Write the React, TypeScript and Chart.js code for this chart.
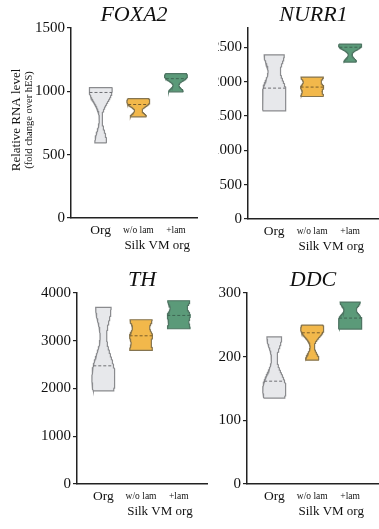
import React, { useEffect, useRef } from 'react';
import { Chart, registerables } from 'chart.js';

Chart.register(...registerables);

// ---------- data ----------
const categories = ['Org', 'w/o lam', '+lam'];
const groupLabel = 'Silk VM org';
const titles = ['FOXA2', 'NURR1', 'TH', 'DDC'];
const yTitle = 'Relative RNA level';
const ySubTitle = '(fold change over hES)';

// replicate values per group (min, median, max)
const foxa2Org = [593, 991, 1030];
const foxa2WoLam = [799, 896, 943];
const foxa2Lam = [996, 1100, 1140];
const nurr1Org = [1574, 1905, 2390];
const nurr1WoLam = [1783, 1920, 2066];
const nurr1Lam = [2284, 2500, 2546];
const thOrg = [1950, 2475, 3698];
const thWoLam = [2797, 3104, 3440];
const thLam = [3251, 3530, 3838];
const ddcOrg = [135, 161.5, 231];
const ddcWoLam = [194.5, 237.5, 249.6];
const ddcLam = [243.4, 260.6, 285.8];

const foxa2Ticks = [0, 500, 1000, 1500];
const nurr1Ticks = [0, 500, 1000, 1500, 2000, 2500];
const thTicks = [0, 1000, 2000, 3000, 4000];
const ddcTicks = [0, 100, 200, 300];
const yMaxes = [1500, 2780, 4000, 300];

// ---------- style ----------
const FONT = "'Liberation Serif', 'DejaVu Serif', serif";
const fills = ['#e7e8eb', '#f2b84b', '#5b9a79'];
const borders = ['#8a8b8e', '#85744f', '#4f7563'];
const medianColors = ['#6f7074', '#7a5e2a', '#3e6552'];
const HALF = 0.305;
const BW_ADJUST = 0.48;

function violin(samples: number[], center: number) {
  const s = [...samples].sort((a, b) => a - b);
  const n = s.length;
  const mean = s.reduce((a, b) => a + b, 0) / n;
  const sd = Math.sqrt(s.reduce((a, b) => a + (b - mean) ** 2, 0) / (n - 1));
  const h = Math.pow(n, -0.2) * BW_ADJUST * sd;
  const dens = (y: number) => s.reduce((a, v) => a + Math.exp(-0.5 * ((y - v) / h) ** 2), 0);
  const lo = s[0];
  const hi = s[n - 1];
  const STEPS = 120;
  const ys: number[] = [];
  for (let k = 0; k <= STEPS; k++) ys.push(lo + ((hi - lo) * k) / STEPS);
  const ds = ys.map(dens);
  const dmax = Math.max(...ds);
  const right = ys.map((y, k) => ({ x: center + (HALF * ds[k]) / dmax, y }));
  const left = ys.map((y, k) => ({ x: center - (HALF * ds[k]) / dmax, y })).reverse();
  const outline = [...right, ...left, right[0]];
  const med = n % 2 ? s[(n - 1) / 2] : (s[n / 2 - 1] + s[n / 2]) / 2;
  const wm = (HALF * dens(med)) / dmax;
  return { outline, median: [{ x: center - wm, y: med }, { x: center + wm, y: med }] };
}

type Panel = {
  title: string;
  groups: number[][];
  ticks: number[];
  yMax: number;
  left: number;
  top: number;
  width: number;
  height: number;
  yw: number;
  padTop: number;
  padRight: number;
  xh: number;
  xmin: number;
  xmax: number;
  yTitle: boolean;
};

const panels: Panel[] = [
  { title: titles[0], groups: [foxa2Org, foxa2WoLam, foxa2Lam], ticks: foxa2Ticks, yMax: yMaxes[0],
    left: 0, top: 0, width: 200, height: 260, yw: 71, padTop: 28, padRight: 3, xh: 42, xmin: -0.79, xmax: 2.56, yTitle: true },
  { title: titles[1], groups: [nurr1Org, nurr1WoLam, nurr1Lam], ticks: nurr1Ticks, yMax: yMaxes[1],
    left: 218, top: 0, width: 161, height: 260, yw: 30, padTop: 28, padRight: 0, xh: 41, xmin: -0.69, xmax: 2.76, yTitle: false },
  { title: titles[2], groups: [thOrg, thWoLam, thLam], ticks: thTicks, yMax: yMaxes[2],
    left: 0, top: 260, width: 210, height: 269, yw: 77, padTop: 33, padRight: 3, xh: 45, xmin: -0.7, xmax: 2.75, yTitle: false },
  { title: titles[3], groups: [ddcOrg, ddcWoLam, ddcLam], ticks: ddcTicks, yMax: yMaxes[3],
    left: 212, top: 260, width: 167, height: 269, yw: 35, padTop: 33, padRight: 0, xh: 45, xmin: -0.72, xmax: 2.76, yTitle: false },
];

function makeTextPlugin(p: Panel) {
  return {
    id: 'panelText',
    afterDraw(chart: any) {
      const { ctx, chartArea } = chart;
      const xs = chart.scales.x;
      ctx.save();
      ctx.fillStyle = '#111';
      ctx.textAlign = 'center';
      ctx.textBaseline = 'middle';
      ctx.font = `italic 22px ${FONT}`;
      ctx.fillText(p.title, (chartArea.left + chartArea.right) / 2, chartArea.top - 13);
      ctx.font = `13px ${FONT}`;
      ctx.fillText(groupLabel, xs.getPixelForValue(1.5), chartArea.bottom + 28);
      if (p.yTitle) {
        const cy = (chartArea.top + chartArea.bottom) / 2 - 3;
        ctx.translate(17, cy);
        ctx.rotate(-Math.PI / 2);
        ctx.font = `13px ${FONT}`;
        ctx.fillText(yTitle, 0, 0);
        ctx.font = `10.5px ${FONT}`;
        ctx.fillText(ySubTitle, 0, 12);
      }
      ctx.restore();
    },
  };
}

function PanelChart({ p }: { p: Panel }) {
  const ref = useRef<HTMLCanvasElement | null>(null);
  useEffect(() => {
    if (!ref.current) return;
    const datasets: any[] = [];
    p.groups.forEach((g, i) => {
      const v = violin(g, i);
      datasets.push({
        data: v.outline,
        borderColor: borders[i],
        backgroundColor: fills[i],
        borderWidth: 1.2,
        pointRadius: 0,
        tension: 0,
        fill: 'shape',
        order: 2,
      });
      datasets.push({
        data: v.median,
        borderColor: medianColors[i],
        borderWidth: 1,
        borderDash: [3, 2],
        pointRadius: 0,
        fill: false,
        order: 1,
      });
    });
    const chart = new Chart(ref.current, {
      type: 'line',
      data: { datasets },
      options: {
        animation: false,
        responsive: false,
        events: [],
        layout: { padding: { top: p.padTop, right: p.padRight, bottom: 0, left: 0 } },
        plugins: { legend: { display: false }, tooltip: { enabled: false }, title: { display: false } },
        scales: {
          x: {
            type: 'linear',
            min: p.xmin,
            max: p.xmax,
            grid: { display: false, drawTicks: false },
            border: { display: true, color: '#222', width: 1.5 },
            afterBuildTicks: (sc: any) => {
              sc.ticks = categories.map((_, i) => ({ value: i }));
            },
            afterFit: (sc: any) => {
              sc.height = p.xh;
            },
            ticks: {
              padding: 5,
              autoSkip: false,
              maxRotation: 0,
              color: '#111',
              callback: (v: any) => categories[v as number],
              font: (c: any) => ({ family: FONT, size: c.index === 0 ? 13.5 : 9.5, lineHeight: '14px' }),
            },
          },
          y: {
            type: 'linear',
            min: 0,
            max: p.yMax,
            afterBuildTicks: (sc: any) => {
              sc.ticks = p.ticks.map((v) => ({ value: v }));
            },
            afterFit: (sc: any) => {
              sc.width = p.yw;
            },
            grid: { display: true, drawOnChartArea: false, drawTicks: true, tickLength: 4, color: '#222', lineWidth: 1.2 },
            border: { display: true, color: '#222', width: 1.5 },
            ticks: { padding: 2, color: '#111', font: { family: FONT, size: 15 }, callback: (v: any) => String(v) },
          },
        },
      } as any,
      plugins: [makeTextPlugin(p)],
    });
    return () => chart.destroy();
  }, [p]);
  return (
    <div style={{ position: 'absolute', left: p.left, top: p.top, width: p.width, height: p.height, overflow: 'hidden' }}>
      <canvas ref={ref} width={p.width} height={p.height} style={{ width: p.width, height: p.height, display: 'block' }} />
    </div>
  );
}

export default function App() {
  return (
    <div style={{ position: 'absolute', left: 0, top: 0, width: 379, height: 529, background: '#fff', overflow: 'hidden' }}>
      {panels.map((p) => (
        <PanelChart key={p.title} p={p} />
      ))}
    </div>
  );
}
